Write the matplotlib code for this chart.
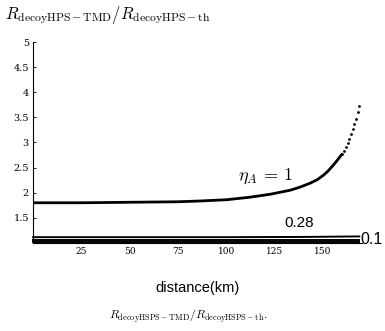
import numpy as np
import matplotlib
matplotlib.use('Agg')
import matplotlib.pyplot as plt

plt.rcParams['mathtext.fontset'] = 'cm'
plt.rcParams['font.family'] = ['Liberation Sans', 'DejaVu Sans']

# eta_A = 1 curve, smooth part (distance km, ratio)
eta1_km = [0, 25, 50, 75, 86, 100, 112, 122.7, 133, 138, 143.3, 147, 150.2, 152.5,
           155.3, 157, 158.8, 160]
eta1_val = [1.80, 1.80, 1.81, 1.82, 1.835, 1.86, 1.91, 1.97, 2.05, 2.11, 2.19, 2.26, 2.35, 2.43,
            2.55, 2.63, 2.72, 2.78]
# eta_A = 1 curve, sampled dots near the end
dots_km = [160.0, 161.0, 161.9, 162.7, 163.6, 164.4, 165.3, 166.1, 167.0, 167.9, 168.7]
dots_val = [2.78, 2.84, 2.91, 2.99, 3.07, 3.17, 3.26, 3.36, 3.47, 3.60, 3.73]

# lower curves
low_km = [0, 50, 100, 140, 168.7]
eta028_val = [1.115, 1.115, 1.115, 1.12, 1.13]
eta01_val = [1.065, 1.065, 1.065, 1.065, 1.065]
eta_low_val = [1.012, 1.012, 1.012, 1.012, 1.012]

xticks = [25, 50, 75, 100, 125, 150]
yticks = [1.5, 2, 2.5, 3, 3.5, 4, 4.5, 5]

fig = plt.figure(figsize=(3.85, 3.31), dpi=100)
ax = fig.add_axes([0.0857, 0.266, 0.854, 0.607])

ax.plot(eta1_km, eta1_val, color='black', lw=2.0, solid_capstyle='butt', solid_joinstyle='round')
ax.plot(dots_km, dots_val, 'o', color='black', ms=2, mew=0)
for vals in (eta028_val, eta01_val, eta_low_val):
    ax.plot(low_km, vals, color='black', lw=1.4, clip_on=False)

ax.set_xlim(0, 170)
ax.set_ylim(1, 5)
ax.set_xticks(xticks)
ax.set_yticks(yticks)
ax.set_xticklabels([str(t) for t in xticks], fontsize=6.5, family='DejaVu Serif')
ax.set_yticklabels(['1.5', '2', '2.5', '3', '3.5', '4', '4.5', '5'], fontsize=7, family='DejaVu Serif')
ax.tick_params(direction='in', length=2, width=0.6, pad=3)
for s in ('top', 'right'):
    ax.spines[s].set_visible(False)
ax.spines['left'].set_linewidth(0.8)
ax.spines['bottom'].set_linewidth(0.8)

ax.text(120, 2.33, r'$\eta_A\,=\,1$', fontsize=13, ha='center', va='center')
ax.text(137.6, 1.40, '0.28', fontsize=11, ha='center', va='center')
ax.text(169.5, 1.07, '0.1', fontsize=11.5, ha='left', va='center', clip_on=False)

fig.text(0.013, 0.955, r'$R_{\mathrm{decoyHPS-TMD}}/R_{\mathrm{decoyHPS-th}}$',
         fontsize=12, ha='left', va='center')
ax.set_xlabel('distance(km)', fontsize=10.5, labelpad=18)
fig.text(0.49, 0.045, r'$R_{\mathrm{decoyHSPS-TMD}}/R_{\mathrm{decoyHSPS-th}}.$',
         fontsize=8.5, ha='center', va='center')

fig.savefig('out.png', dpi=100)
